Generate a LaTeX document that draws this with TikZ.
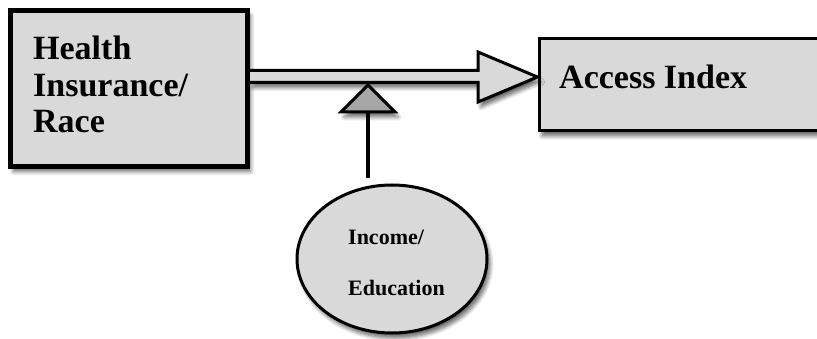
\documentclass[tikz,border=0pt]{standalone}
\usepackage{fontspec}
\setmainfont{Liberation Serif}
\usetikzlibrary{shadows.blur,calc,shapes.geometric}
\definecolor{boxgray}{HTML}{D9D9D9}
\definecolor{trigray}{HTML}{A6A6A6}
\begin{document}
\begin{tikzpicture}[x=1pt,y=1pt,
  shad/.style={blur shadow={shadow xshift=3pt,shadow yshift=-5pt,shadow blur steps=6,shadow blur radius=4pt,shadow opacity=60}},
  bigbox/.style={draw=black,fill=boxgray,shad,inner sep=0pt},
  bigtxt/.style={font=\fontsize{34}{36.5}\selectfont\bfseries,inner sep=0pt,anchor=base west,align=left},
  smalltxt/.style={font=\fontsize{22}{24}\selectfont\bfseries,inner sep=0pt,anchor=base west}]
\useasboundingbox (0,0) rectangle (817,-339);
\clip (0,0) rectangle (817,-339);
% left box
\node[bigbox,line width=5pt,minimum width=237pt,minimum height=156pt] (L) at (129,-88.5) {};
% right box
\node[bigbox,line width=3pt,minimum width=291pt,minimum height=92.5pt] (R) at (684.5,-84.75) {};
% texts
\node[bigtxt] (t1) at (33,-60) {Health};
\node[bigtxt] (t2) at (33,-97) {Insurance/};
\node[bigtxt] (t3) at (33,-133) {Race};
\node[bigtxt] (t4) at (559,-89) {Access Index};
% ellipse
\node[draw=black,line width=3pt,fill=boxgray,shad,ellipse,minimum width=190pt,minimum height=148pt,inner sep=0pt] (E) at (392,-259) {};
\node[smalltxt] (e1) at (348,-245) {Income/};
\node[smalltxt] (e2) at (348,-295) {Education};
% big arrow
\coordinate (a0) at (L.east |- 0,-76.5);
\coordinate (tip) at (R.west |- 0,-77);
\fill[boxgray,shad] ($(a0)+(0,6)$) -- (478,-70.5) -- (478,-52) -- (tip) -- (478,-102) -- (478,-82.5) -- ($(a0)+(0,-6)$) -- cycle;
\draw[line width=3pt,line join=miter] ($(a0)+(0,6)$) -- (478,-70.5) -- (478,-52) -- (tip) -- (478,-102) -- (478,-82.5) -- ($(a0)+(0,-6)$);
% moderator
\coordinate (m0) at (368,-112);
\coordinate (m1) at (368,-178);
\draw[line width=4pt] (m0) -- (m1);
\draw[line width=3pt,fill=trigray,shad,line join=miter] (368,-85) -- (395,-112) -- (341,-112) -- cycle;
\end{tikzpicture}
\end{document}
